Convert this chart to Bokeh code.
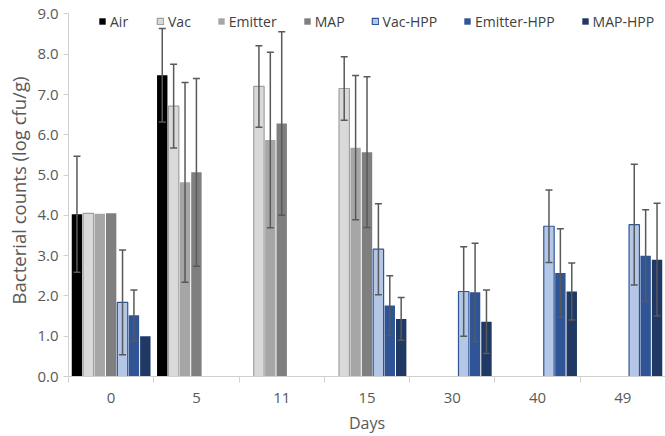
import math
from bokeh.plotting import figure
from bokeh.models import (ColumnDataSource, Range1d, FixedTicker, PrintfTickFormatter,
                          Legend, LegendItem, LinearAxis)
from bokeh.embed import file_html
from bokeh.resources import INLINE

N = None
days = ["0", "5", "11", "15", "30", "40", "49"]
series = ["Air", "Vac", "Emitter", "MAP", "Vac-HPP", "Emitter-HPP", "MAP-HPP"]

air = [4.03, 7.48, N, N, N, N, N]
air_err = [1.44, 1.16, N, N, N, N, N]
vac = [4.05, 6.71, 7.20, 7.15, N, N, N]
vac_err = [N, 1.04, 1.01, 0.79, N, N, N]
emitter = [4.04, 4.82, 5.87, 5.68, N, N, N]
emitter_err = [N, 2.48, 2.18, 1.79, N, N, N]
map_ = [4.05, 5.07, 6.28, 5.57, N, N, N]
map_err = [N, 2.33, 2.28, 1.87, N, N, N]
vac_hpp = [1.84, N, N, 3.16, 2.11, 3.73, 3.77]
vac_hpp_err = [1.30, N, N, 1.13, 1.11, 0.90, 1.50]
emitter_hpp = [1.52, N, N, 1.76, 2.09, 2.57, 3.00]
emitter_hpp_err = [0.63, N, N, 0.74, 1.22, 1.10, 1.14]
map_hpp = [1.00, N, N, 1.43, 1.36, 2.11, 2.90]
map_hpp_err = [N, N, N, 0.53, 0.79, 0.71, 1.40]

values = [air, vac, emitter, map_, vac_hpp, emitter_hpp, map_hpp]
errors = [air_err, vac_err, emitter_err, map_err, vac_hpp_err, emitter_hpp_err, map_hpp_err]

fills = ["#000000", "#D9D9D9", "#A6A6A6", "#7F7F7F", "#B4C7E7", "#2F5597", "#1F3864"]
lines = [None, "#A0A0A0", None, None, "#2F5597", None, None]

y_ticks = [0, 1, 2, 3, 4, 5, 6, 7, 8, 9]

FONT = "Open Sans"
AX_COL = "#D0D0D0"
TXT = "#595959"

p = figure(width=665, height=436, output_backend="svg", toolbar_location=None,
           x_range=Range1d(0, len(days)), y_range=Range1d(0, 9.235),
           x_axis_type=None, y_axis_type=None,
           min_border_left=68, min_border_right=0, min_border_top=4, min_border_bottom=60)
p.outline_line_color = None
p.xgrid.visible = False
p.ygrid.visible = False

step = 0.1336
bw = 0.122
cap = 0.041

bar_renderers = []
for i, (name, vals, errs) in enumerate(zip(series, values, errors)):
    xs, tops = [], []
    for d, v in enumerate(vals):
        if v is not None:
            xs.append(d + 0.5 + (i - 3) * step)
            tops.append(v)
    src = ColumnDataSource(dict(x=xs, top=tops))
    r = p.vbar(x="x", top="top", bottom=0, width=bw, source=src,
               fill_color=fills[i], line_color=lines[i], line_width=1.2)
    bar_renderers.append(r)

for i, (vals, errs) in enumerate(zip(values, errors)):
    xs, lo, hi = [], [], []
    for d, (v, e) in enumerate(zip(vals, errs)):
        if v is not None and e is not None:
            xs.append(d + 0.5 + (i - 3) * step)
            lo.append(v - e)
            hi.append(v + e)
    if not xs:
        continue
    src = ColumnDataSource(dict(x=xs, lo=lo, hi=hi,
                                xl=[x - cap for x in xs], xr=[x + cap for x in xs]))
    p.segment(x0="x", y0="lo", x1="x", y1="hi", source=src, line_color="#595959", line_width=1.5)
    p.segment(x0="xl", y0="hi", x1="xr", y1="hi", source=src, line_color="#595959", line_width=1.5)
    p.segment(x0="xl", y0="lo", x1="xr", y1="lo", source=src, line_color="#595959", line_width=1.5)

# y axis
yax = LinearAxis(ticker=FixedTicker(ticks=y_ticks, minor_ticks=[]), bounds=(0, 9),
                 formatter=PrintfTickFormatter(format="%.1f"),
                 axis_label="Bacterial counts (log cfu/g)")
yax.axis_line_color = AX_COL
yax.major_tick_line_color = AX_COL
yax.major_tick_out = 5
yax.major_tick_in = 0
yax.minor_tick_line_color = None
yax.major_label_text_font = FONT
yax.major_label_text_font_size = "15px"
yax.major_label_text_color = TXT
yax.major_label_standoff = 5
yax.axis_label_text_font = FONT
yax.axis_label_text_font_size = "18.5px"
yax.axis_label_text_font_style = "normal"
yax.axis_label_text_color = TXT
yax.axis_label_standoff = 3
p.add_layout(yax, "left")

# x axis
centers = [d + 0.5 for d in range(len(days))]
bounds_t = [float(d) for d in range(len(days) + 1)]
xax = LinearAxis(ticker=FixedTicker(ticks=centers, minor_ticks=bounds_t),
                 axis_label="Days")
xax.major_label_overrides = {c: lab for c, lab in zip(centers, days)}
xax.axis_line_color = AX_COL
xax.major_tick_line_color = None
xax.major_tick_out = 0
xax.major_tick_in = 0
xax.minor_tick_line_color = AX_COL
xax.minor_tick_out = 6
xax.minor_tick_in = 0
xax.major_label_text_font = FONT
xax.major_label_text_font_size = "15px"
xax.major_label_text_color = TXT
xax.major_label_standoff = 10
xax.axis_label_text_font = FONT
xax.axis_label_text_font_size = "16px"
xax.axis_label_text_font_style = "normal"
xax.axis_label_text_color = TXT
xax.axis_label_standoff = 6
p.add_layout(xax, "below")

legend = Legend(items=[LegendItem(label=s, renderers=[r]) for s, r in zip(series, bar_renderers)],
                orientation="horizontal", location=(30, 345), spacing=26,
                glyph_width=8, glyph_height=8, label_standoff=4, padding=0, margin=0,
                label_text_font=FONT, label_text_font_size="14px", label_text_color="#404040",
                label_height=20, background_fill_alpha=0, border_line_alpha=0)
p.add_layout(legend)

open("out.html", "w").write(file_html(p, INLINE))
